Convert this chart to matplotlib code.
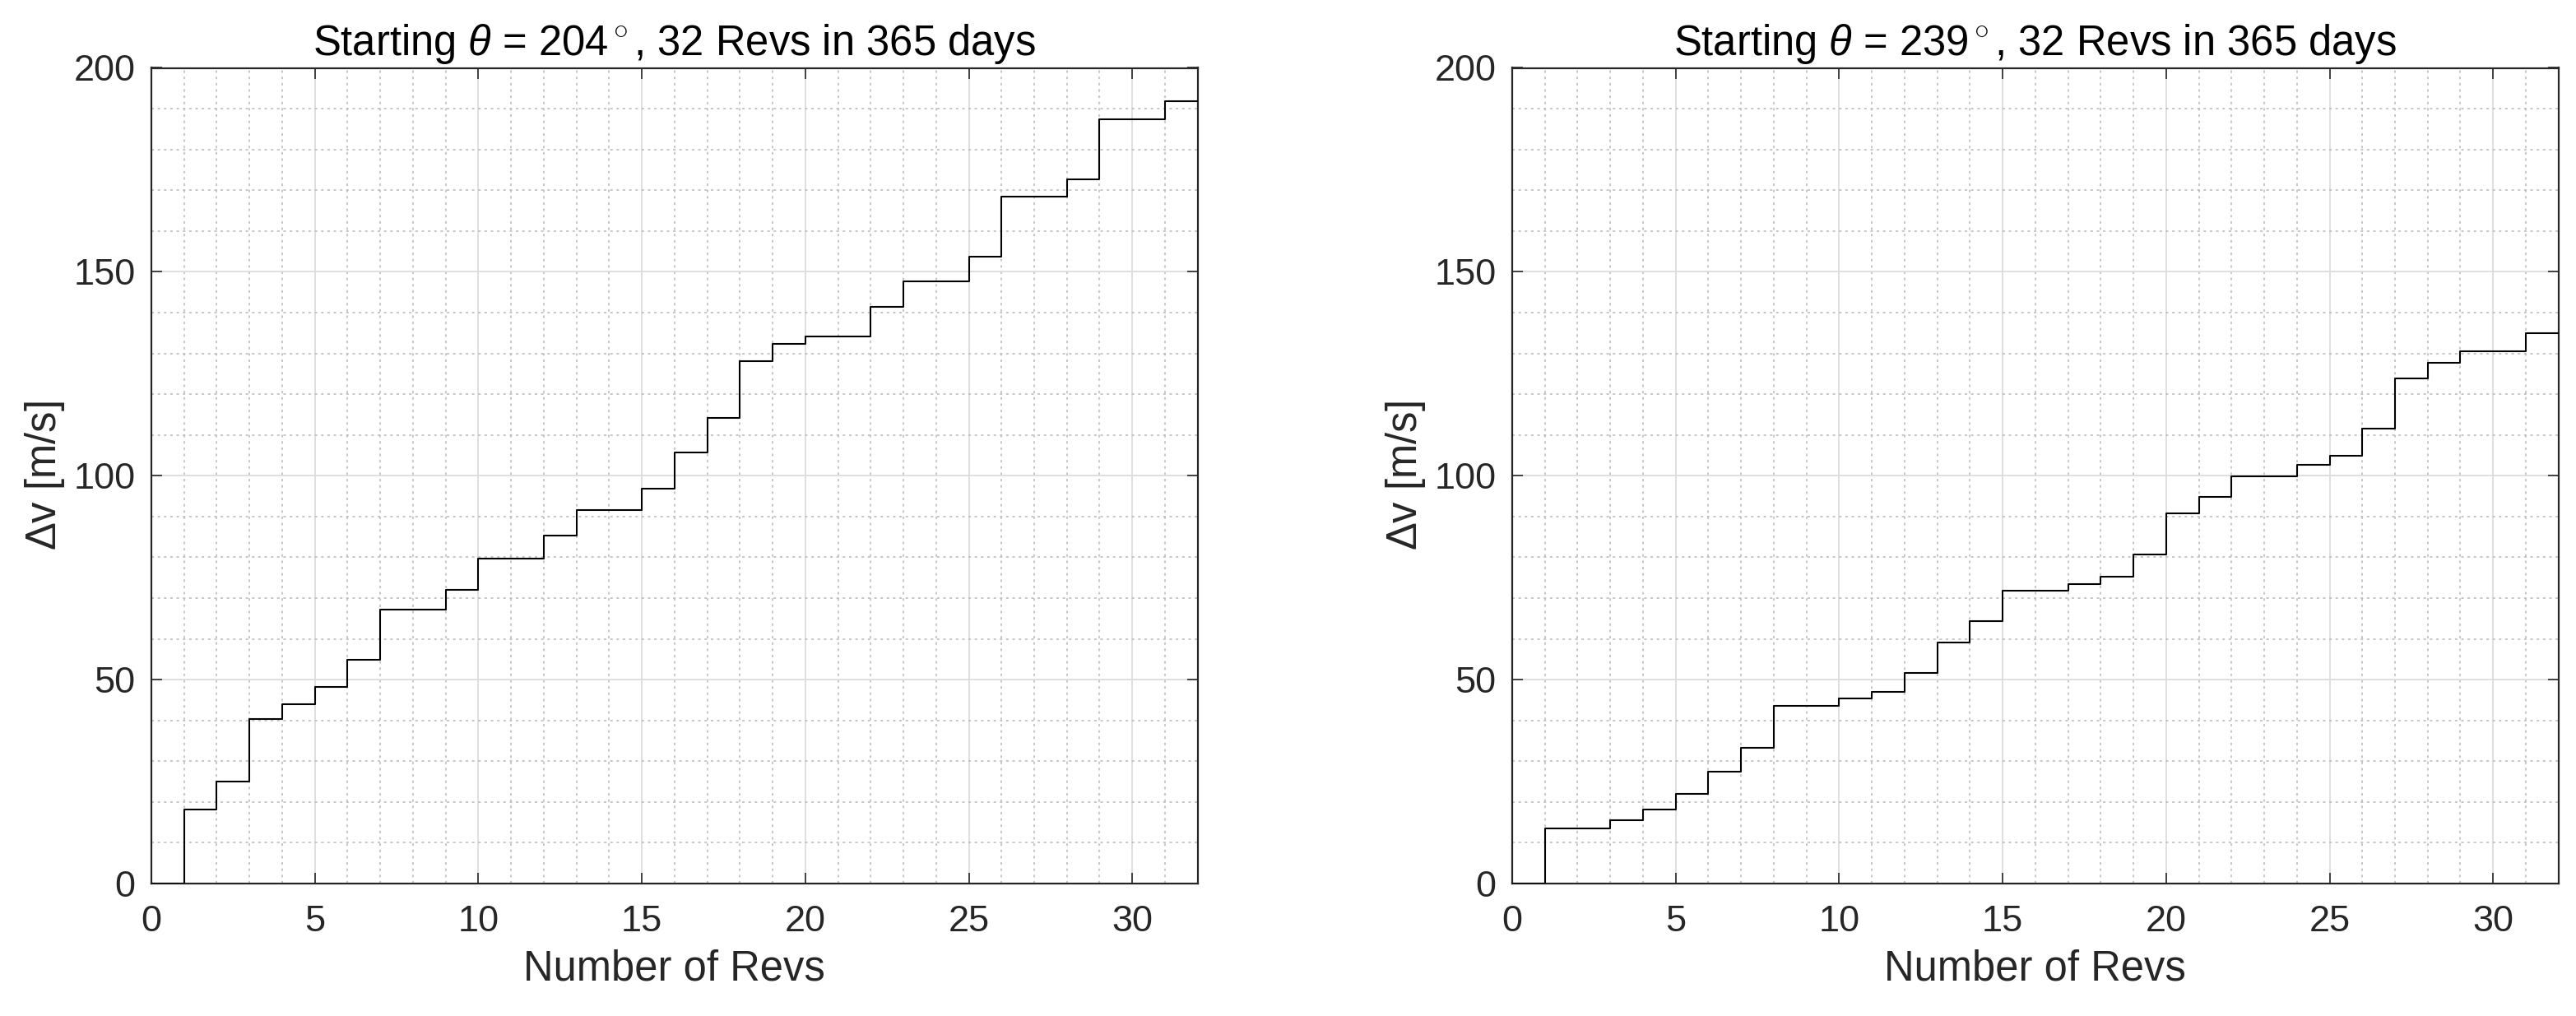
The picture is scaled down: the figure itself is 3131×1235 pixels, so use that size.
import numpy as np
import matplotlib
matplotlib.use("Agg")
import matplotlib.pyplot as plt
from matplotlib.ticker import MultipleLocator

plt.rcParams['font.family'] = ['Liberation Sans', 'DejaVu Sans']
plt.rcParams['mathtext.fontset'] = 'custom'
plt.rcParams['mathtext.rm'] = 'Liberation Sans'
plt.rcParams['mathtext.it'] = 'Liberation Sans:italic'

# revolution index (0 .. 32) and cumulative delta-v [m/s]
revs = np.arange(0, 33)

dv_204 = [0, 18.2, 25.1, 40.4, 43.9, 48.3, 54.8, 67.2, 67.2, 72.1, 79.6,
          79.6, 85.4, 91.6, 91.6, 96.9, 105.7, 114.2, 128.1, 132.3, 134.2,
          134.2, 141.4, 147.6, 147.6, 153.8, 168.4, 168.4, 172.7, 187.4,
          187.4, 191.9, 191.9]

dv_239 = [0, 13.5, 13.5, 15.6, 18.2, 21.9, 27.4, 33.2, 43.6, 43.6, 45.4,
          47.1, 51.6, 59.1, 64.3, 71.9, 71.9, 73.5, 75.3, 80.6, 90.8,
          94.9, 99.8, 99.8, 102.6, 104.8, 111.5, 123.8, 127.6, 130.6,
          130.6, 134.9, 134.9]

start_theta = [204, 239]
titles = [r'Starting $\theta$ = %d$^\circ$, 32 Revs in 365 days' % t for t in start_theta]

W, H = 3131, 1235
fig = plt.figure(figsize=(W / 100, H / 100), dpi=100)
ax1 = fig.add_axes([184 / W, 1 - 1074 / H, 1271.7 / W, 991.5 / H])
ax2 = fig.add_axes([1838 / W, 1 - 1074 / H, 1271.7 / W, 991.5 / H])

for ax, dv, ttl in zip([ax1, ax2], [dv_204, dv_239], titles):
    ax.step(revs, dv, where='post', color='k', lw=1.5, zorder=3)
    ax.set_xlim(0, 32)
    ax.set_ylim(0, 200)
    ax.xaxis.set_major_locator(MultipleLocator(5))
    ax.xaxis.set_minor_locator(MultipleLocator(1))
    ax.yaxis.set_major_locator(MultipleLocator(50))
    ax.yaxis.set_minor_locator(MultipleLocator(10))
    ax.grid(which='major', color='#dcdcdc', lw=1.3, ls='-')
    ax.grid(which='minor', color='#b8b8b8', lw=1.1, ls=(0, (2, 3)))
    ax.set_axisbelow(True)
    ax.tick_params(which='major', direction='in', length=9.5, width=1.2,
                   top=True, right=True, labelsize=32.5, colors='#262626')
    ax.tick_params(axis='x', which='major', pad=19)
    ax.tick_params(axis='y', which='major', pad=14)
    ax.tick_params(which='minor', length=0, top=True, right=True)
    for s in ax.spines.values():
        s.set_color('#262626')
        s.set_linewidth(1.6)
    ax.set_xlabel('Number of Revs', fontsize=36.5, color='#262626', labelpad=9)
    ax.set_ylabel(r'$\Delta$v [m/s]', fontsize=36.5, color='#262626', labelpad=6)
    ax.set_title(ttl, fontsize=36.5, pad=11)

fig.savefig('out.png', dpi=100)
